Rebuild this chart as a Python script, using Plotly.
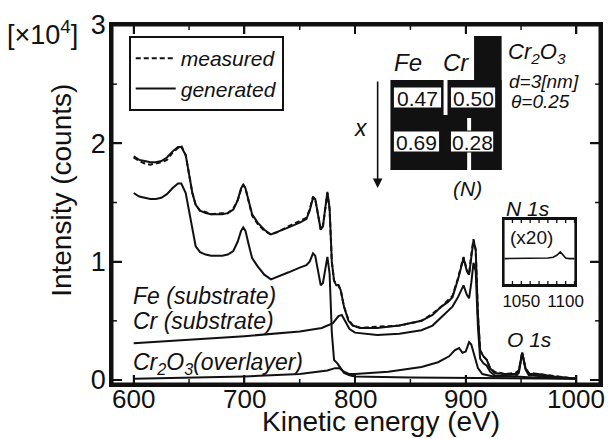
import plotly.graph_objects as go

# ---------------- data ----------------
energy_total = [600, 605, 610, 615, 620, 625, 630, 635, 640, 643, 647, 650, 653, 656, 660, 665, 670, 680,
                685, 690, 694, 697, 699, 701, 704, 707, 712, 718, 724, 730, 740, 750, 756, 759, 762, 764,
                767, 769, 771, 773, 775, 777, 779, 781, 783, 785, 787, 790, 794, 798, 805, 820, 840, 860,
                870, 878, 884, 888, 893, 898, 901, 903, 905, 907, 909, 911, 913, 916, 919, 922, 926, 935,
                945, 948, 951, 954, 957, 965, 980, 1000]
generated_total = [1.89, 1.86, 1.85, 1.84, 1.84, 1.85, 1.88, 1.93, 1.97, 1.97, 1.90, 1.75, 1.58, 1.48, 1.43,
                   1.41, 1.40, 1.40, 1.41, 1.44, 1.52, 1.62, 1.65, 1.62, 1.50, 1.40, 1.33, 1.27, 1.23, 1.25,
                   1.29, 1.33, 1.36, 1.43, 1.54, 1.53, 1.38, 1.27, 1.30, 1.45, 1.59, 1.45, 1.00, 0.84, 0.80,
                   0.80, 0.76, 0.62, 0.50, 0.46, 0.44, 0.44, 0.46, 0.50, 0.55, 0.62, 0.66, 0.70, 0.85, 1.03,
                   0.92, 0.89, 1.05, 1.18, 1.10, 0.55, 0.25, 0.20, 0.17, 0.10, 0.06, 0.05, 0.05, 0.08, 0.23,
                   0.10, 0.05, 0.05, 0.03, 0.01]
measured_total = [1.88, 1.85, 1.83, 1.82, 1.83, 1.84, 1.86, 1.92, 1.96, 1.98, 1.90, 1.74, 1.58, 1.48, 1.43,
                  1.42, 1.40, 1.41, 1.41, 1.45, 1.52, 1.61, 1.65, 1.62, 1.50, 1.39, 1.32, 1.26, 1.23, 1.25,
                  1.30, 1.34, 1.37, 1.44, 1.55, 1.53, 1.37, 1.27, 1.30, 1.46, 1.58, 1.44, 1.00, 0.84, 0.81,
                  0.80, 0.76, 0.62, 0.51, 0.46, 0.44, 0.45, 0.46, 0.50, 0.56, 0.62, 0.67, 0.71, 0.86, 1.04,
                  0.93, 0.89, 1.06, 1.19, 1.10, 0.55, 0.25, 0.20, 0.17, 0.10, 0.07, 0.05, 0.06, 0.08, 0.23,
                  0.10, 0.06, 0.05, 0.03, 0.01]

energy_fe = [600, 605, 610, 615, 620, 625, 630, 635, 640, 643, 647, 650, 653, 656, 660, 665, 670, 680, 685,
             690, 694, 697, 699, 701, 704, 707, 712, 718, 724, 730, 740, 750, 756, 759, 762, 764, 767, 769,
             771, 773, 775, 777, 779, 781, 784, 787, 790, 795, 800, 850, 900, 1000]
fe_substrate = [1.58, 1.55, 1.54, 1.53, 1.53, 1.54, 1.57, 1.62, 1.66, 1.66, 1.58, 1.43, 1.25, 1.13, 1.08,
                1.06, 1.05, 1.05, 1.06, 1.09, 1.17, 1.26, 1.29, 1.26, 1.14, 1.03, 0.96, 0.89, 0.85, 0.87,
                0.91, 0.95, 0.97, 1.00, 1.07, 1.05, 0.90, 0.80, 0.82, 0.95, 1.04, 0.90, 0.40, 0.17, 0.14,
                0.10, 0.06, 0.04, 0.03, 0.02, 0.015, 0.01]

energy_cr = [600, 650, 700, 750, 770, 780, 785, 788, 791, 795, 800, 820, 840, 860, 870, 878, 884, 888, 893,
             898, 901, 903, 905, 907, 909, 911, 913, 916, 919, 922, 926, 940, 960, 1000]
cr_substrate = [0.31, 0.34, 0.37, 0.41, 0.44, 0.48, 0.54, 0.55, 0.50, 0.43, 0.40, 0.38, 0.39, 0.42, 0.46,
                0.53, 0.58, 0.62, 0.70, 0.80, 0.72, 0.69, 0.82, 0.99, 0.92, 0.45, 0.18, 0.14, 0.12, 0.07,
                0.04, 0.03, 0.02, 0.01]

energy_ox = [600, 650, 700, 750, 775, 782, 786, 790, 795, 800, 830, 860, 875, 885, 890, 894, 897, 900, 903,
             905, 908, 911, 915, 925, 945, 948, 951, 954, 957, 970, 990, 1000]
cr2o3_overlayer = [0.01, 0.02, 0.03, 0.05, 0.08, 0.10, 0.10, 0.07, 0.05, 0.05, 0.07, 0.11, 0.15, 0.20, 0.25,
                   0.27, 0.23, 0.24, 0.32, 0.30, 0.20, 0.10, 0.05, 0.03, 0.03, 0.06, 0.23, 0.09, 0.04, 0.03,
                   0.02, 0.01]

energy_n1s = [1031, 1040, 1050, 1060, 1070, 1080, 1086, 1090, 1094, 1097, 1100, 1104, 1110]
n1s_x20 = [0.40, 0.40, 0.41, 0.41, 0.41, 0.41, 0.42, 0.45, 0.50, 0.46, 0.41, 0.40, 0.40]

x_ticks = [600, 700, 800, 900, 1000]
x_minor_ticks = [650, 750, 850, 950]
y_ticks = [0, 1, 2, 3]
y_minor_ticks = [0.5, 1.5, 2.5]
inset_ticks = [1050, 1100]
inset_minor_ticks = [1040, 1060, 1070, 1080, 1090, 1110]
table_values = ["0.47", "0.50", "0.69", "0.28"]

# ---------------- layout helpers (pixel -> paper) ----------------
W, H = 616, 439
L, R, T, B = 112, 608, 25, 384
PW, PH = R - L, B - T


def px(x):
    return (x - L) / PW


def py(y):
    return (B - y) / PH


FONT = "Liberation Sans, Arial, sans-serif"
INK = "#111111"
LW = 2.0
XR = [580.4, 1021.3]
YR = [-0.034, 3.0]
IXR = [1030, 1111]
INSET = (510, 219, 583, 285)  # left, top, right, bottom in pixels

fig = go.Figure()
fig.add_trace(go.Scatter(x=energy_total, y=measured_total, mode="lines", name="measured",
                         line=dict(color=INK, width=LW, dash="5px,3px")))
fig.add_trace(go.Scatter(x=energy_total, y=generated_total, mode="lines", name="generated",
                         line=dict(color=INK, width=LW)))
fig.add_trace(go.Scatter(x=energy_fe, y=fe_substrate, mode="lines", showlegend=False,
                         line=dict(color=INK, width=LW)))
fig.add_trace(go.Scatter(x=energy_cr, y=cr_substrate, mode="lines", showlegend=False,
                         line=dict(color=INK, width=LW)))
fig.add_trace(go.Scatter(x=energy_ox, y=cr2o3_overlayer, mode="lines", showlegend=False,
                         line=dict(color=INK, width=LW)))
fig.add_trace(go.Scatter(x=energy_n1s, y=n1s_x20, mode="lines", showlegend=False,
                         xaxis="x2", yaxis="y2", line=dict(color=INK, width=1.6)))

base = dict(showgrid=False, zeroline=False, tickcolor=INK, linecolor=INK)

fig.update_layout(
    width=W, height=H,
    margin=dict(l=L, r=W - R, t=T, b=H - B),
    paper_bgcolor="white", plot_bgcolor="white",
    xaxis=dict(range=XR, tickvals=x_ticks, ticks="inside", ticklen=9, tickwidth=1.6,
               showline=True, linewidth=2.6, mirror="ticks", showticklabels=False, **base),
    yaxis=dict(range=YR, tickvals=y_ticks, ticks="inside", ticklen=10, tickwidth=1.6,
               showline=True, linewidth=2.6, mirror="ticks", ticklabelstandoff=-2,
               tickfont=dict(family=FONT, size=27, color=INK), **base),
    xaxis2=dict(domain=[px(INSET[0]), px(INSET[2])], anchor="y2", range=IXR, tickvals=inset_ticks,
                showline=True, linewidth=2, mirror="ticks", ticks="inside",
                ticklen=4, tickwidth=1.2,
                tickfont=dict(family=FONT, size=17, color=INK), **base),
    yaxis2=dict(domain=[py(INSET[3]), py(INSET[1])], anchor="x2", range=[0, 1], showline=True,
                linewidth=2, mirror=True, showticklabels=False, ticks="", **base),
    legend=dict(x=px(129), y=py(36), xanchor="left", yanchor="top", bgcolor="white",
                bordercolor=INK, borderwidth=2,
                font=dict(family=FONT, size=21, color=INK, style="italic"),
                tracegroupgap=0, itemwidth=40),
    showlegend=True,
)

shapes = []
# axis frames (main plot and inset)
for (x0, y0, x1, y1) in [(0, 0, 1, 0), (0, 1, 1, 1), (0, 0, 0, 1), (1, 0, 1, 1)]:
    shapes.append(dict(type="line", xref="paper", yref="paper", x0=x0, x1=x1, y0=y0, y1=y1,
                       line=dict(color=INK, width=3), layer="above"))
shapes.append(dict(type="rect", xref="paper", yref="paper", x0=px(INSET[0]), x1=px(INSET[2]),
                   y0=py(INSET[3]), y1=py(INSET[1]),
                   line=dict(color=INK, width=2), fillcolor="rgba(0,0,0,0)", layer="above"))


def xtick(xref, v, ybot, ytop, ln, w):
    # inward ticks on the bottom and top edges, lengths given in pixels
    shapes.append(dict(type="line", xref=xref, yref="paper", x0=v, x1=v, y0=ybot, y1=ybot + ln / PH,
                       line=dict(color=INK, width=w), layer="above"))
    shapes.append(dict(type="line", xref=xref, yref="paper", x0=v, x1=v, y0=ytop, y1=ytop - ln / PH,
                       line=dict(color=INK, width=w), layer="above"))


def ytick(v, ln, w):
    shapes.append(dict(type="line", xref="paper", yref="y", x0=0, x1=ln / PW, y0=v, y1=v,
                       line=dict(color=INK, width=w), layer="above"))
    shapes.append(dict(type="line", xref="paper", yref="y", x0=1, x1=1 - ln / PW, y0=v, y1=v,
                       line=dict(color=INK, width=w), layer="above"))


for v in x_ticks:
    xtick("x", v, 0, 1, 9, 1.8)
for v in x_minor_ticks:
    xtick("x", v, 0, 1, 5, 1.5)
for v in y_ticks:
    ytick(v, 10, 1.8)
for v in y_minor_ticks:
    ytick(v, 5, 1.5)
for v in inset_ticks + inset_minor_ticks:
    xtick("x2", v, py(INSET[3]), py(INSET[1]), 4, 1.3)

# black blocks of the composition table
for (x0, y0, x1, y1) in [(480, 36, 508, 170), (395, 80, 508, 170)]:
    shapes.append(dict(type="rect", xref="paper", yref="paper", x0=px(x0), x1=px(x1), y0=py(y1), y1=py(y0),
                       fillcolor=INK, line=dict(width=0), layer="above"))
# white gaps
for (x0, y0, x1, y1) in [(449, 80, 453, 115), (473, 118, 477, 170)]:
    shapes.append(dict(type="rect", xref="paper", yref="paper", x0=px(x0), x1=px(x1), y0=py(y1), y1=py(y0),
                       fillcolor="white", line=dict(width=0), layer="above"))
# white value boxes
boxes = [(398, 87, 447, 108), (456, 87, 502, 108), (398, 131, 445, 152), (456, 131, 500, 152)]
for (x0, y0, x1, y1) in boxes:
    shapes.append(dict(type="rect", xref="paper", yref="paper", x0=px(x0), x1=px(x1), y0=py(y1), y1=py(y0),
                       fillcolor="white", line=dict(color=INK, width=1), layer="above"))
fig.update_layout(shapes=shapes)

ann = []


def text(x, y, s, size=19, italic=True, xanchor="left", yanchor="middle", **kw):
    ann.append(dict(x=px(x), y=py(y), xref="paper", yref="paper", text=s, showarrow=False,
                    xanchor=xanchor, yanchor=yanchor,
                    font=dict(family=FONT, size=size, color=INK, style="italic" if italic else "normal"),
                    **kw))


# x-axis tick labels, placed at the axis values
for v in x_ticks:
    ann.append(dict(x=v, xref="x", y=py(399), yref="paper", text=str(v), showarrow=False,
                    xanchor="center", yanchor="middle", font=dict(family=FONT, size=26, color=INK)))

for (x0, y0, x1, y1), v in zip(boxes, table_values):
    text((x0 + x1) / 2, (y0 + y1) / 2 + 1, v, size=21, italic=False, xanchor="center")

text(413, 63, "Fe", size=24, xanchor="center")
text(462, 63, "Cr", size=24, xanchor="center")
text(512, 53, "Cr<sub>2</sub>O<sub>3</sub>", size=22)
text(513, 81, "d=3[nm]", size=19)
text(515, 101, "θ=0.25", size=19)
text(365, 128, "x", size=23, xanchor="center")
text(473, 188, "(N)", size=21, xanchor="center")
text(131, 296, "Fe (substrate)", size=23)
text(131, 321, "Cr (substrate)", size=23)
text(131, 363, "Cr<sub>2</sub>O<sub>3</sub>(overlayer)", size=23)
text(511, 339, "O 1s", size=21)
text(510, 208, "N 1s", size=21)
text(514, 238, "(x20)", size=19, italic=False)
text(3, 33, "[×10<sup>4</sup>]", size=27, italic=False)
text(385, 439, "Kinetic energy (eV)", size=28, italic=False, xanchor="center", yanchor="bottom")
ann.append(dict(x=px(60), y=py(190), xref="paper", yref="paper", text="Intensity (counts)", showarrow=False,
                textangle=-90, xanchor="center", yanchor="middle",
                font=dict(family=FONT, size=28, color=INK)))
# arrow for x direction
ann.append(dict(x=px(382), y=py(188), xref="paper", yref="paper", ax=0, ay=-108,
                axref="pixel", ayref="pixel", text="", showarrow=True, arrowhead=2, arrowsize=1.2,
                arrowwidth=1.6, arrowcolor=INK))
fig.update_layout(annotations=ann)

fig.write_html("out.html")
